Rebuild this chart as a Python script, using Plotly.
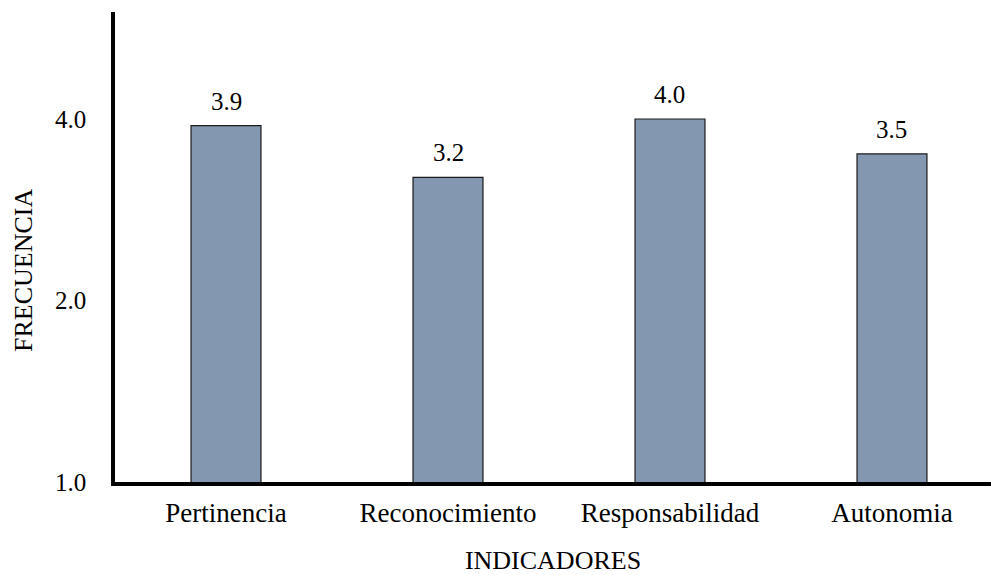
import math
import plotly.graph_objects as go

# Indicator means
indicadores = ["Pertinencia", "Reconocimiento", "Responsabilidad", "Autonomia"]
frecuencia = [3.9, 3.2, 4.0, 3.5]
etiquetas = ["3.9", "3.2", "4.0", "3.5"]

y_ticks = [1, 2, 4]
y_tick_text = ["1.0", "2.0", "4.0"]

FONT = "Liberation Serif"
BAR_COLOR = "#8497B0"

# plot area geometry in pixels
L, T, W, H = 115, 12, 876, 470

fig = go.Figure(
    go.Bar(
        x=indicadores,
        y=frecuencia,
        width=0.315,
        marker=dict(color=BAR_COLOR, line=dict(color="#1a1a1a", width=1.2)),
        hoverinfo="x+y",
    )
)

for cat, val, txt in zip(indicadores, frecuencia, etiquetas):
    fig.add_annotation(
        x=cat, y=math.log10(val), text=txt, showarrow=False,
        yanchor="bottom", yshift=9,
        font=dict(family=FONT, size=25, color="#000000"),
    )

# vertical axis title
fig.add_annotation(
    xref="paper", yref="paper",
    x=(23 - L) / W, y=(T + H - 271) / H,
    text="FRECUENCIA", textangle=-90, showarrow=False,
    xanchor="center", yanchor="middle",
    font=dict(family=FONT, size=26, color="#000000"),
)

fig.update_layout(
    width=991, height=575,
    margin=dict(l=L, r=991 - L - W, t=T, b=575 - T - H),
    paper_bgcolor="white", plot_bgcolor="white",
    showlegend=False,
    font=dict(family=FONT, size=24, color="#000000"),
    xaxis=dict(
        range=[-0.5, 3.446],
        automargin=False,
        showline=True, linecolor="#000000", linewidth=3.5,
        showgrid=False, zeroline=False, ticks="",
        ticklabelstandoff=4,
        tickfont=dict(family=FONT, size=27),
        title=dict(text="INDICADORES", standoff=33,
                   font=dict(family=FONT, size=26)),
    ),
    yaxis=dict(
        type="log",
        automargin=False,
        range=[0, H / 181.5 * math.log10(2)],
        tickvals=y_ticks, ticktext=y_tick_text,
        showline=True, linecolor="#000000", linewidth=3.5,
        showgrid=False, zeroline=False, ticks="",
        ticklabelstandoff=20,
        tickfont=dict(family=FONT, size=25),
    ),
)

fig.write_html("out.html")
